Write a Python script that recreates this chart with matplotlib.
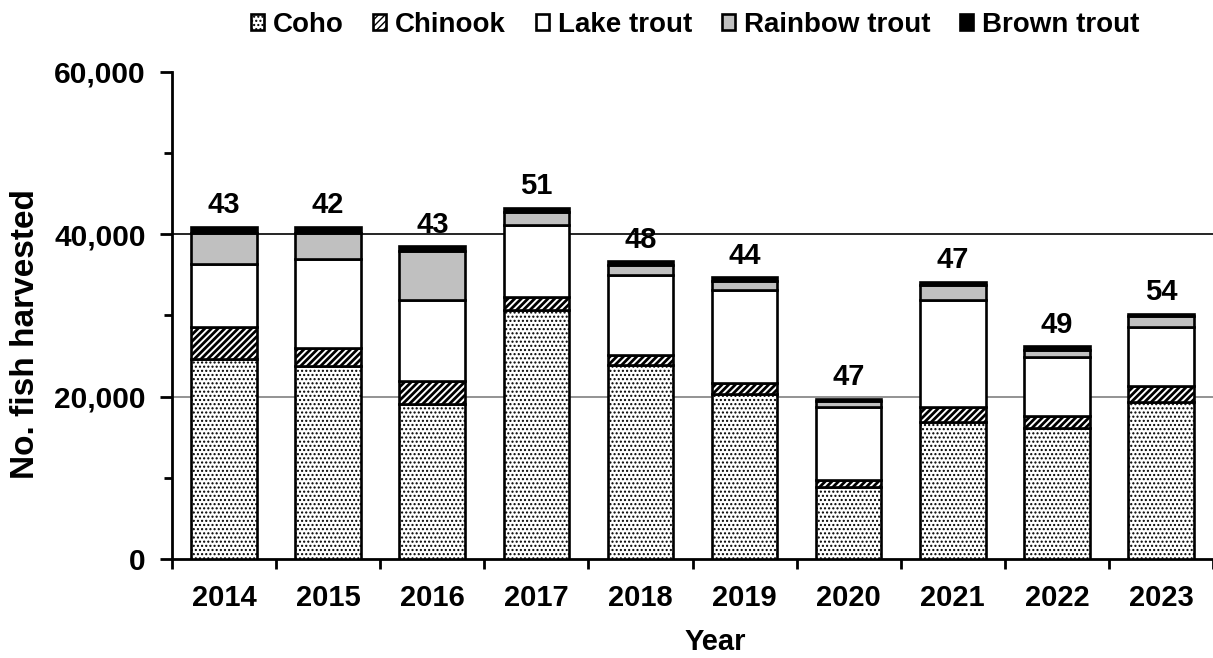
import matplotlib
matplotlib.use("Agg")
import matplotlib.pyplot as plt
import numpy as np

years = ["2014", "2015", "2016", "2017", "2018", "2019", "2020", "2021", "2022", "2023"]
coho = [24660, 23800, 19070, 30620, 23920, 20340, 8920, 16930, 16190, 19320]
chinook = [3860, 2180, 2880, 1650, 1230, 1320, 820, 1770, 1440, 2010]
lake_trout = [7820, 11010, 9900, 8830, 9870, 11420, 9040, 13230, 7240, 7310]
rainbow_trout = [3820, 3170, 6130, 1600, 1140, 1200, 700, 1770, 900, 1240]
brown_trout = [780, 740, 530, 540, 500, 410, 250, 410, 410, 330]
bar_labels = ["43", "42", "43", "51", "48", "44", "47", "47", "49", "54"]
series_names = ["Coho", "Chinook", "Lake trout", "Rainbow trout", "Brown trout"]

plt.rcParams['font.family'] = ['Liberation Sans', 'DejaVu Sans']
plt.rcParams['font.weight'] = 'bold'

fig = plt.figure(figsize=(12.13, 6.58), dpi=100)
ax = fig.add_axes([0.1418, 0.1505, 0.8582, 0.7401])

x = np.arange(len(years))
width = 0.63
series = [coho, chinook, lake_trout, rainbow_trout, brown_trout]
styles = [
    dict(facecolor="white", hatch="....", hlw=1.0),
    dict(facecolor="white", hatch="/////", hlw=2.0),
    dict(facecolor="white", hatch=None, hlw=1.0),
    dict(facecolor="#C0C0C0", hatch=None, hlw=1.0),
    dict(facecolor="black", hatch=None, hlw=1.0),
]

bottom = np.zeros(len(years))
handles = []
for vals, name, st in zip(series, series_names, styles):
    with plt.rc_context({'hatch.linewidth': st['hlw']}):
        bars = ax.bar(x, vals, width, bottom=bottom, facecolor=st['facecolor'],
                      edgecolor="black", linewidth=1.9, hatch=st['hatch'],
                      label=name, zorder=3)
        for p in bars:
            if hasattr(p, "set_hatch_linewidth"):
                p.set_hatch_linewidth(st['hlw'])
    handles.append(bars)
    bottom = bottom + np.array(vals)

for xi, tot, lab in zip(x, bottom, bar_labels):
    ax.annotate(lab, xy=(xi, tot), xytext=(0, 10), textcoords="offset points",
                ha="center", va="baseline", fontsize=21, fontweight="bold")

ax.set_xlim(-0.5, len(years) - 0.5)
ax.set_ylim(0, 60000)

# gridlines
ax.axhline(20000, color="#808080", linewidth=1.2, zorder=1)
ax.axhline(40000, color="black", linewidth=1.2, zorder=1)

ax.spines['top'].set_visible(False)
ax.spines['right'].set_visible(False)
ax.spines['left'].set_linewidth(2)
ax.spines['bottom'].set_linewidth(2)

ax.set_yticks([0, 20000, 40000, 60000])
ax.set_yticklabels(["0", "20,000", "40,000", "60,000"])
ax.set_yticks(np.arange(0, 60001, 10000), minor=True)
ax.tick_params(axis='y', which='major', length=9, width=2, direction='out', labelsize=21.5, pad=10)
ax.tick_params(axis='y', which='minor', length=6, width=2, direction='out')

ax.set_xticks(x)
ax.set_xticklabels(years)
ax.set_xticks(np.arange(-0.5, len(years)), minor=True)
ax.tick_params(axis='x', which='major', length=0, labelsize=21, pad=18)
ax.tick_params(axis='x', which='minor', length=7, width=2, direction='out')

for t in ax.get_xticklabels() + ax.get_yticklabels():
    t.set_fontweight('bold')

ax.set_ylabel("No. fish harvested", fontsize=24, fontweight='bold')
ax.yaxis.set_label_coords(-0.126, 0.462)
ax.set_xlabel("Year", fontsize=21, fontweight='bold')
ax.xaxis.label.set_verticalalignment('baseline')
ax.xaxis.set_label_coords(0.5216, -0.186)

leg = fig.legend(handles, series_names, loc="center", bbox_to_anchor=(695 / 1213, 0.962),
                 ncol=5, frameon=False, fontsize=20, handlelength=0.47, handleheight=0.47,
                 handletextpad=0.32, columnspacing=1.07, borderaxespad=0)
for t in leg.get_texts():
    t.set_fontweight('bold')

fig.savefig("out.png", dpi=100)
